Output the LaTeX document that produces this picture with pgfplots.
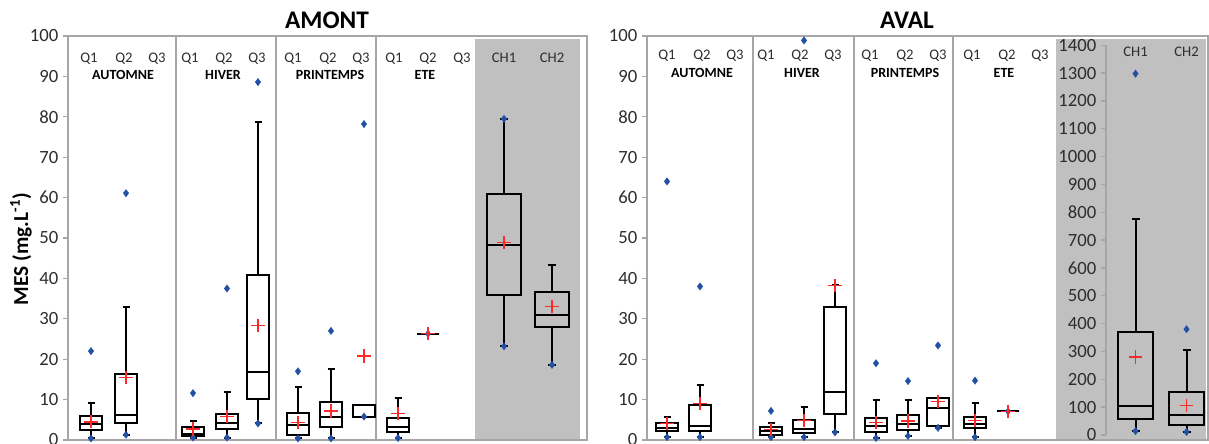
\documentclass[border=0pt]{standalone}
\usepackage{fontspec}
\setmainfont{Carlito}
\usepackage{pgfplots}
\pgfplotsset{compat=1.18}
\usepgfplotslibrary{statistics}
\definecolor{framegray}{RGB}{166,166,166}
\definecolor{bggray}{RGB}{192,192,192}
\definecolor{ptblue}{RGB}{33,80,165}
\definecolor{meanred}{RGB}{255,40,40}
\definecolor{ticktext}{RGB}{45,45,45}
\tikzset{
 qlab/.style={font=\fontsize{11}{12}\selectfont, text=ticktext},
 slab/.style={font=\bfseries\fontsize{10.5}{12}\selectfont, text=black},
}
\pgfplotsset{
 mybox/.style={black, line width=1.5pt, solid, mark=none},
 pts/.style={only marks, mark=diamond*, mark size=2.8pt, color=ptblue, mark options={fill=ptblue, draw=ptblue, line width=0.2pt}},
 means/.style={only marks, mark=+, mark size=5pt, color=meanred, mark options={line width=1.05pt}},
 common/.style={scale only axis, disabledatascaling, ymin=0, ymax=100, ytick={0,10,...,100}, xtick=\empty,
   axis line style={framegray, line width=1.1pt}, ytick style={framegray, line width=1pt},
   tick align=outside, ytick pos=left, major tick length=3.75pt,
   tick label style={font=\fontsize{14}{16}\selectfont, text=ticktext},
   /pgf/number format/assume math mode=true, /pgf/number format/1000 sep={},
   clip=false, height=303pt},
}
\newcommand{\bx}[6]{\addplot[mybox, boxplot prepared={draw direction=y, draw position=#1, box extend=22, whisker extend=7, lower whisker=#2, lower quartile=#3, median=#4, upper quartile=#5, upper whisker=#6}] coordinates {};}
\begin{document}
\begin{tikzpicture}
\useasboundingbox (0,0) rectangle (906.75pt,332.25pt);
% ---------------- AMONT ----------------
\begin{axis}[common, at={(51pt,2.25pt)}, anchor=south west, width=389.25pt, xmin=68, xmax=587]
\addplot[fill=bggray, draw=none] coordinates {(475,0.3) (580,0.3) (580,99.3) (475,99.3)} --cycle;
\draw[framegray, line width=1.1pt] (axis cs:176,0) -- (axis cs:176,100);
\draw[framegray, line width=1.1pt] (axis cs:276,0) -- (axis cs:276,100);
\draw[framegray, line width=1.1pt] (axis cs:376,0) -- (axis cs:376,100);
\bx{91}{0.4}{2.5}{3.95}{5.85}{9.05}
\bx{126}{1.3}{4.3}{6.1}{16.4}{32.8}
\bx{193}{0.6}{1.1}{1.6}{3.1}{4.8}
\bx{227}{0.6}{2.6}{4.1}{6.5}{11.9}
\bx{258}{4.1}{10.1}{16.8}{40.8}{78.6}
\bx{298}{0.4}{1.3}{3.6}{6.7}{13.0}
\bx{331}{0.4}{3.1}{5.8}{9.5}{17.6}
\bx{364}{5.8}{5.8}{5.8}{8.6}{8.6}
\bx{398}{0.5}{2.1}{3.1}{5.4}{10.5}
\bx{428}{26.3}{26.3}{26.3}{26.3}{26.3}
\addplot[mybox, boxplot prepared={draw direction=y, draw position=504, lower whisker=23.2, lower quartile=35.8, median=48.3, upper quartile=61.0, upper whisker=79.5, box extend=34, whisker extend=8}] coordinates {};
\addplot[mybox, boxplot prepared={draw direction=y, draw position=552, lower whisker=18.6, lower quartile=27.9, median=31.0, upper quartile=36.6, upper whisker=43.4, box extend=34, whisker extend=8}] coordinates {};
\addplot[pts] coordinates {(91,0.4) (91,22.0) (126,1.3) (126,61.1) (193,0.6) (193,11.6) (227,0.6) (227,37.5) (258,4.1) (258,88.6) (298,0.4) (298,17.0) (331,0.4) (331,27.0) (364,5.8) (364,78.2) (398,0.5) (428,26.3) (504,23.2) (504,79.5) (552,18.6)};
\addplot[means] coordinates {(91,4.5) (126,15.5) (193,2.7) (227,5.8) (258,28.4) (298,4.4) (331,7.2) (364,20.8) (398,6.5) (428,26.3) (504,48.9) (552,33.1)};
\node[qlab] at (axis cs:89,94.5) {Q1};
\node[qlab] at (axis cs:124,94.5) {Q2};
\node[qlab] at (axis cs:157,94.5) {Q3};
\node[qlab] at (axis cs:190,94.5) {Q1};
\node[qlab] at (axis cs:224,94.5) {Q2};
\node[qlab] at (axis cs:257,94.5) {Q3};
\node[qlab] at (axis cs:293,94.5) {Q1};
\node[qlab] at (axis cs:328,94.5) {Q2};
\node[qlab] at (axis cs:361,94.5) {Q3};
\node[qlab] at (axis cs:394,94.5) {Q1};
\node[qlab] at (axis cs:428,94.5) {Q2};
\node[qlab] at (axis cs:462,94.5) {Q3};
\node[qlab] at (axis cs:504,94.5) {CH1};
\node[qlab] at (axis cs:552,94.5) {CH2};
\node[slab] at (axis cs:123,90.3) {AUTOMNE};
\node[slab] at (axis cs:223,90.3) {HIVER};
\node[slab] at (axis cs:330,90.3) {PRINTEMPS};
\node[slab] at (axis cs:425,90.3) {ETE};
\end{axis}
% ---------------- AVAL ----------------
\begin{axis}[common, at={(485.25pt,2.25pt)}, anchor=south west, width=420.75pt, xmin=647, xmax=1208]
\addplot[fill=bggray, draw=none] coordinates {(1056,0.3) (1206,0.3) (1206,99.3) (1056,99.3)} --cycle;
\draw[framegray, line width=1.1pt] (axis cs:753,0) -- (axis cs:753,100);
\draw[framegray, line width=1.1pt] (axis cs:854,0) -- (axis cs:854,100);
\draw[framegray, line width=1.1pt] (axis cs:953,0) -- (axis cs:953,100);
\bx{667}{0.7}{2.2}{3.0}{4.2}{5.7}
\bx{700}{0.7}{2.2}{3.5}{8.6}{13.7}
\bx{771}{0.7}{1.2}{2.3}{3.3}{4.3}
\bx{804}{0.7}{1.8}{2.7}{4.9}{8.2}
\bx{835}{1.9}{6.5}{11.9}{32.9}{38.4}
\bx{876}{0.5}{2.1}{3.5}{5.5}{10.0}
\bx{908}{1.0}{2.4}{3.9}{6.1}{9.8}
\bx{938}{3.0}{3.4}{7.8}{10.4}{10.4}
\bx{975}{0.7}{3.0}{4.0}{5.7}{9.2}
\bx{1008}{7.1}{7.1}{7.1}{7.1}{7.1}
\addplot[pts] coordinates {(667,0.7) (667,64.0) (700,0.7) (700,38.0) (771,0.7) (771,7.2) (804,0.7) (804,98.9) (835,1.9) (876,0.5) (876,19.0) (908,1.0) (908,14.6) (938,3.0) (938,23.4) (975,0.7) (975,14.7) (1008,7.1)};
\addplot[means] coordinates {(667,4.1) (700,9.1) (771,2.6) (804,4.8) (835,38.3) (876,4.4) (908,4.7) (938,9.5) (975,4.9) (1008,7.1)};
\node[qlab] at (axis cs:667,95) {Q1};
\node[qlab] at (axis cs:702,95) {Q2};
\node[qlab] at (axis cs:735,95) {Q3};
\node[qlab] at (axis cs:766,95) {Q1};
\node[qlab] at (axis cs:800,95) {Q2};
\node[qlab] at (axis cs:833,95) {Q3};
\node[qlab] at (axis cs:870,95) {Q1};
\node[qlab] at (axis cs:905,95) {Q2};
\node[qlab] at (axis cs:938,95) {Q3};
\node[qlab] at (axis cs:972,95) {Q1};
\node[qlab] at (axis cs:1007,95) {Q2};
\node[qlab] at (axis cs:1040,95) {Q3};
\node[qlab] at (axis cs:1135.5,96.2) {CH1};
\node[qlab] at (axis cs:1186.5,96.2) {CH2};
\node[slab] at (axis cs:702,90.8) {AUTOMNE};
\node[slab] at (axis cs:802,90.8) {HIVER};
\node[slab] at (axis cs:905,90.8) {PRINTEMPS};
\node[slab] at (axis cs:1004,90.8) {ETE};
\end{axis}
% ---------------- AVAL, CH (secondary scale) ----------------
\begin{axis}[scale only axis, disabledatascaling, at={(829.5pt,6pt)}, anchor=south west, width=75pt, height=292.3pt,
  xmin=1106, xmax=1206, ymin=0, ymax=1400, ytick={0,100,...,1400}, xtick=\empty,
  axis x line=none, axis y line*=left, axis line style={framegray, line width=1.1pt, -},
  ytick style={framegray, line width=1pt}, tick align=outside, major tick length=3.75pt,
  tick label style={font=\fontsize{14}{16}\selectfont, text=ticktext},
  /pgf/number format/assume math mode=true, /pgf/number format/1000 sep={}, clip=false]
\addplot[mybox, boxplot prepared={draw direction=y, draw position=1135.5, lower whisker=14, lower quartile=57, median=104, upper quartile=371, upper whisker=775, box extend=35, whisker extend=8}] coordinates {};
\addplot[mybox, boxplot prepared={draw direction=y, draw position=1186.5, lower whisker=11, lower quartile=36, median=71, upper quartile=154, upper whisker=305, box extend=35, whisker extend=8}] coordinates {};
\addplot[pts] coordinates {(1135.5,14) (1135.5,1298) (1186.5,11) (1186.5,380)};
\addplot[means] coordinates {(1135.5,280) (1186.5,107)};
\end{axis}
% titles and y label
\node[font=\bfseries\fontsize{19}{22}\selectfont] at (245.25pt,317.25pt) {AMONT};
\node[font=\bfseries\fontsize{19}{22}\selectfont] at (680.25pt,317.25pt) {AVAL};
\node[rotate=90, font=\bfseries\fontsize{16}{18}\selectfont] at (15.75pt,145.5pt) {MES (mg.L\textsuperscript{-1})};
\end{tikzpicture}
\end{document}
